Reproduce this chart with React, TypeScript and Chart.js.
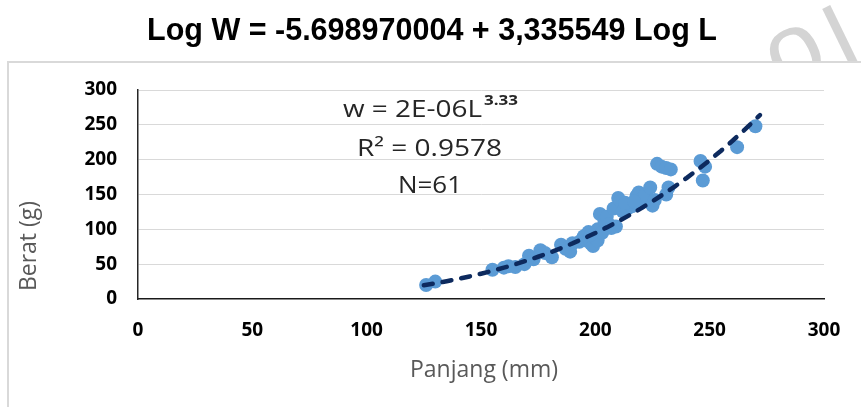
import React, { useEffect, useRef } from "react";
import { Chart, registerables } from "chart.js";

Chart.register(...registerables);

// ---- data ----
const lengthsMm = [
  126, 130, 155, 160, 162, 165, 169, 171, 173, 176,
  178, 181, 185, 187, 189, 190, 193, 195, 196, 197,
  198, 199, 200, 201, 201, 202, 203, 204, 205, 206,
  207, 208, 209, 210, 211, 212, 214, 215, 216, 218,
  219, 220, 221, 222, 224, 225, 226, 227, 229, 231,
  231, 232, 233, 246, 248, 247, 262, 270, 198, 213,
  217,
];
const weightsG = [
  20, 25, 42, 45, 47, 46, 50, 62, 57, 70,
  66, 60, 78, 72, 68, 80, 82, 90, 84, 96,
  80, 76, 88, 84, 100, 122, 95, 112, 118, 107,
  102, 130, 104, 145, 140, 126, 130, 134, 133, 148,
  153, 138, 145, 150, 160, 134, 142, 194, 190, 188,
  150, 160, 186, 198, 190, 170, 218, 248, 92, 138,
  140,
];

const xTickValues = [0, 50, 100, 150, 200, 250, 300];
const yTickValues = [0, 50, 100, 150, 200, 250, 300];

// power trendline: Log W = a + b Log L
const logIntercept = -5.698970004;
const logSlope = 3.335549;
const trendLengths = [
  125, 130, 135, 140, 145, 150, 155, 160, 165, 170, 175, 180, 185, 190,
  195, 200, 205, 210, 215, 220, 225, 230, 235, 240, 245, 250, 255, 260,
  265, 272,
];

const titleText = "Log W = -5.698970004 + 3,335549 Log L";
const eqMain = "w = 2E-06L";
const eqSup = "3.33";
const r2Text = "R² = 0.9578";
const nText = "N=61";
const xTitle = "Panjang (mm)";
const yTitle = "Berat (g)";
const watermarkA = "o";
const watermarkB = "l";

function fitText(
  ctx: CanvasRenderingContext2D,
  text: string,
  x: number,
  y: number,
  width: number,
  font: string,
  color: string
) {
  ctx.save();
  ctx.font = font;
  ctx.fillStyle = color;
  ctx.textAlign = "left";
  ctx.textBaseline = "alphabetic";
  const w = ctx.measureText(text).width;
  ctx.translate(x, y);
  ctx.scale(width / w, 1);
  ctx.fillText(text, 0, 0);
  ctx.restore();
}

function rotatedText(
  ctx: CanvasRenderingContext2D,
  text: string,
  x: number,
  y: number,
  angle: number,
  font: string,
  color: string
) {
  ctx.save();
  ctx.font = font;
  ctx.fillStyle = color;
  ctx.textAlign = "left";
  ctx.textBaseline = "alphabetic";
  ctx.translate(x, y);
  ctx.rotate(angle);
  ctx.fillText(text, 0, 0);
  ctx.restore();
}

const decorPlugin = {
  id: "decor",
  beforeDraw(chart: any) {
    const ctx: CanvasRenderingContext2D = chart.ctx;
    const W = chart.width;
    const H = chart.height;
    ctx.save();
    ctx.fillStyle = "#ffffff";
    ctx.fillRect(0, 0, W, H);
    ctx.restore();
    // faint watermark behind the chart box
    const ang = (-26 * Math.PI) / 180;
    rotatedText(ctx, watermarkA, 782, 91, ang, "100px 'Liberation Sans', Arial, sans-serif", "#d4d4d4");
    rotatedText(ctx, watermarkB, 848, 77, ang, "100px 'Liberation Sans', Arial, sans-serif", "#d4d4d4");
    ctx.save();
    ctx.fillStyle = "#ffffff";
    ctx.fillRect(8, 62, W, H);
    // outer chart box
    ctx.strokeStyle = "#d9d9d9";
    ctx.lineWidth = 2;
    ctx.beginPath();
    ctx.moveTo(8, H + 2);
    ctx.lineTo(8, 62);
    ctx.lineTo(W + 2, 62);
    ctx.stroke();
    ctx.restore();
    // title
    fitText(ctx, titleText, 147, 40, 570, "bold 31px 'Liberation Sans', Arial, sans-serif", "#000000");
  },
  afterDraw(chart: any) {
    const ctx: CanvasRenderingContext2D = chart.ctx;
    const font = "24px 'Open Sans', sans-serif";
    const col = "#262626";
    fitText(ctx, eqMain, 343, 117, 139, font, col);
    fitText(ctx, eqSup, 484, 105, 34, "bold 15px 'Open Sans', sans-serif", col);
    fitText(ctx, r2Text, 357, 156, 145, font, col);
    fitText(ctx, nText, 398, 193, 64, font, col);
    // axis titles
    const tcol = "#595959";
    ctx.save();
    ctx.font = "23px 'Open Sans', sans-serif";
    ctx.fillStyle = tcol;
    ctx.textAlign = "center";
    ctx.textBaseline = "middle";
    ctx.fillText(xTitle, 484, 370);
    ctx.translate(29, 246);
    ctx.rotate(-Math.PI / 2);
    ctx.fillText(yTitle, 0, 0);
    ctx.restore();
  },
};

export default function App() {
  const ref = useRef<HTMLCanvasElement | null>(null);

  useEffect(() => {
    if (!ref.current) return;
    const points = lengthsMm.map((l, i) => ({ x: l, y: weightsG[i] }));
    const trend = trendLengths.map((l) => ({
      x: l,
      y: Math.pow(10, logIntercept + logSlope * Math.log10(l)),
    }));
    const tickFont = { family: "'Open Sans', sans-serif", weight: "bold" as const, size: 19 };
    const chart = new Chart(ref.current, {
      type: "scatter",
      data: {
        datasets: [
          {
            type: "line",
            data: trend,
            showLine: true,
            borderColor: "#0d2a5e",
            borderWidth: 4.5,
            borderDash: [9, 10],
            borderCapStyle: "round",
            pointRadius: 0,
            tension: 0,
            fill: false,
          } as any,
          {
            data: points,
            backgroundColor: "#5b9bd5",
            borderWidth: 0,
            pointRadius: 7,
            pointHoverRadius: 7,
          },
        ],
      },
      options: {
        responsive: false,
        animation: false,
        events: [],
        layout: { padding: { left: 0, right: 37, top: 90, bottom: 0 } },
        plugins: {
          legend: { display: false },
          tooltip: { enabled: false },
          title: { display: false },
        },
        scales: {
          x: {
            type: "linear",
            min: 0,
            max: 300,
            afterFit: (s: any) => {
              s.height = 108;
            },
            afterBuildTicks: (s: any) => {
              s.ticks = xTickValues.map((v) => ({ value: v }));
            },
            ticks: { padding: 20, font: tickFont, color: "#000000" },
            grid: { display: false, drawTicks: false },
            border: { display: true, color: "#1a1a1a", width: 1.5 },
          },
          y: {
            type: "linear",
            min: 0,
            max: 300,
            afterFit: (s: any) => {
              s.width = 138;
            },
            afterBuildTicks: (s: any) => {
              s.ticks = yTickValues.map((v) => ({ value: v }));
            },
            ticks: { padding: 21, font: tickFont, color: "#000000" },
            grid: {
              drawTicks: false,
              color: (c: any) => (c.tick && c.tick.value === 0 ? "rgba(0,0,0,0)" : "#d9d9d9"),
              lineWidth: 1,
            },
            border: { display: true, color: "#262626", width: 1.5 },
          },
        },
      },
      plugins: [decorPlugin],
    });
    return () => chart.destroy();
  }, []);

  return (
    <div style={{ position: "fixed", left: 0, top: 0, width: 861, height: 407 }}>
      <canvas ref={ref} width={861} height={407} />
    </div>
  );
}
